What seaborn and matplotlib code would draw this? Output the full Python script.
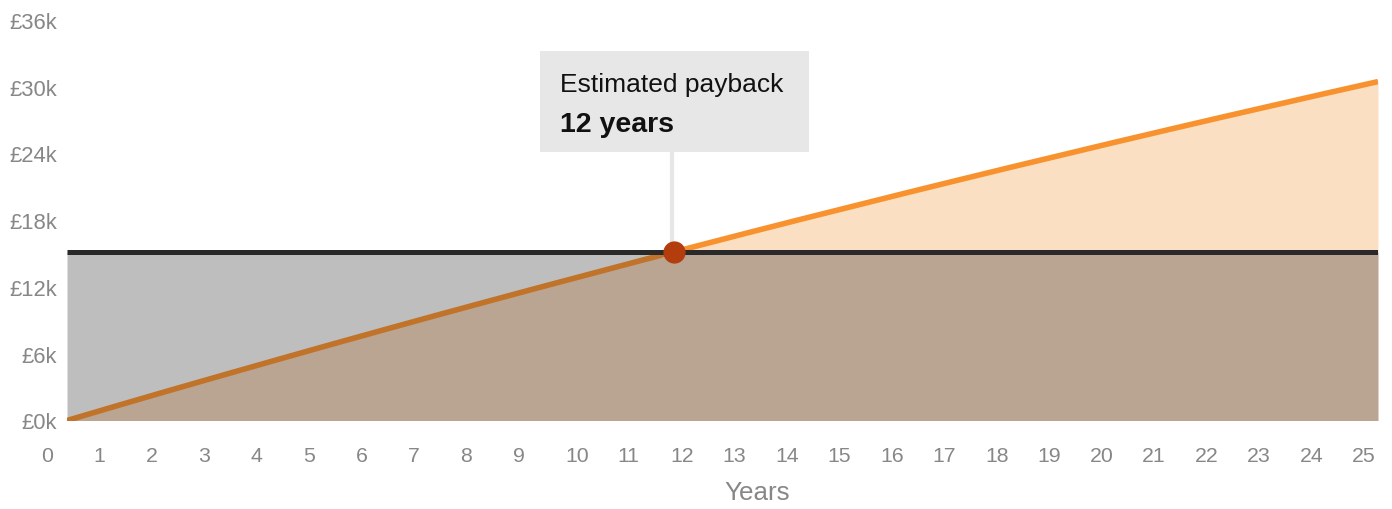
import numpy as np
import pandas as pd
import matplotlib
matplotlib.use("Agg")
import matplotlib.pyplot as plt
import matplotlib.transforms as mtransforms
from matplotlib.patches import Rectangle
import seaborn as sns

# ---- data ----
years = list(range(0, 26))
cumulative_savings = [0, 1390, 2760, 4110, 5450, 6780, 8090, 9390, 10670, 11940,
                      13190, 14440, 15660, 16880, 18080, 19260, 20440, 21600, 22750,
                      23880, 25010, 26120, 27220, 28300, 29380, 30440]
system_cost = 15140
y_ticks = [0, 6000, 12000, 18000, 24000, 30000, 36000]
y_tick_labels = ["£0k", "£6k", "£12k", "£18k", "£24k", "£30k", "£36k"]
x_label = "Years"
callout_title = "Estimated payback"
callout_value = "12 years"

# ---- style ----
sns.set_theme(style="white")
plt.rcParams["font.family"] = ["Liberation Sans", "DejaVu Sans"]

FIG_W, FIG_H, DPI = 13.92, 5.10, 100
fig = plt.figure(figsize=(FIG_W, FIG_H), dpi=DPI)
ax = fig.add_axes([67 / 1392, (510 - 421.5) / 510, (1378 - 67) / 1392, (421.5 - 20.7) / 510])

x = np.array(years, dtype=float)
s = np.array(cumulative_savings, dtype=float)
c = np.full_like(x, system_cost)

# payback point (linear interpolation between yearly points)
diff = s - c
i = int(np.argmax(diff > 0))
x_int = x[i - 1] + (0 - diff[i - 1]) / (diff[i] - diff[i - 1])
y_int = system_cost

C_OVERLAP = "#baa592"
C_GREY = "#bebebe"
C_LIGHT = "#fbdfc2"
C_LINE = "#f7922f"
C_LINE_DARK = "#c07329"

# fills
ax.fill_between(x, 0, np.minimum(s, c), color=C_OVERLAP, lw=0, zorder=1)
ax.fill_between(x, s, c, where=s <= c, interpolate=True, color=C_GREY, lw=0, zorder=1)
ax.fill_between(x, c, s, where=s >= c, interpolate=True, color=C_LIGHT, lw=0, zorder=1)

# savings line split at payback point
xb = np.append(x[x < x_int], x_int)
yb = np.append(s[x < x_int], y_int)
xa = np.insert(x[x > x_int], 0, x_int)
ya = np.insert(s[x > x_int], 0, y_int)
sns.lineplot(x=xa, y=ya, color=C_LINE, lw=4.0, ax=ax, zorder=3, solid_capstyle="butt")
sns.lineplot(x=xb, y=yb, color=C_LINE_DARK, lw=4.0, ax=ax, zorder=3, solid_capstyle="butt")

# cost line
sns.lineplot(x=x, y=c, color="#2a2a2a", lw=3.6, ax=ax, zorder=4, solid_capstyle="butt")

ax.set_xlim(0, 25)
ax.set_ylim(0, 36000)

# ticks
ax.set_yticks(y_ticks)
ax.set_yticklabels(y_tick_labels)
ax.set_xticks(years)
ax.set_xticklabels([str(v) for v in years])
ax.tick_params(axis="both", length=0, colors="#878787")
ax.tick_params(axis="y", labelsize=15.8, pad=7.2)
ax.tick_params(axis="x", labelsize=15.3, pad=18.5)
offset = mtransforms.ScaledTranslation(-26 / DPI, 0, fig.dpi_scale_trans)
for lab in ax.get_xticklabels():
    lab.set_horizontalalignment("left")
    lab.set_transform(lab.get_transform() + offset)

ax.set_xlabel(x_label, fontsize=18.7, color="#878787", labelpad=11)
ax.xaxis.label.set_x((757.5 - 67) / 1311)
ax.set_ylabel("")
for sp in ax.spines.values():
    sp.set_visible(False)

# payback marker + callout
ax.plot([x_int], [y_int], "o", color="#b33d0c", markersize=15, zorder=6, clip_on=False)
disp = ax.transData.transform((x_int, y_int))
tr = mtransforms.Affine2D().translate(disp[0], disp[1])
ax.plot([-2, -2], [0, 100], color="#e6e6e6", lw=3, transform=tr, zorder=5, clip_on=False)
ax.add_patch(Rectangle((-134, 100), 269, 101, transform=tr, facecolor="#e7e7e7",
                       edgecolor="none", zorder=5, clip_on=False))
ax.text(-114, 161, callout_title, transform=tr, fontsize=19, color="#111111",
        ha="left", va="baseline", zorder=7)
ax.text(-114, 121, callout_value, transform=tr, fontsize=20.5, fontweight="bold",
        color="#111111", ha="left", va="baseline", zorder=7)

fig.savefig("out.png", dpi=DPI)
